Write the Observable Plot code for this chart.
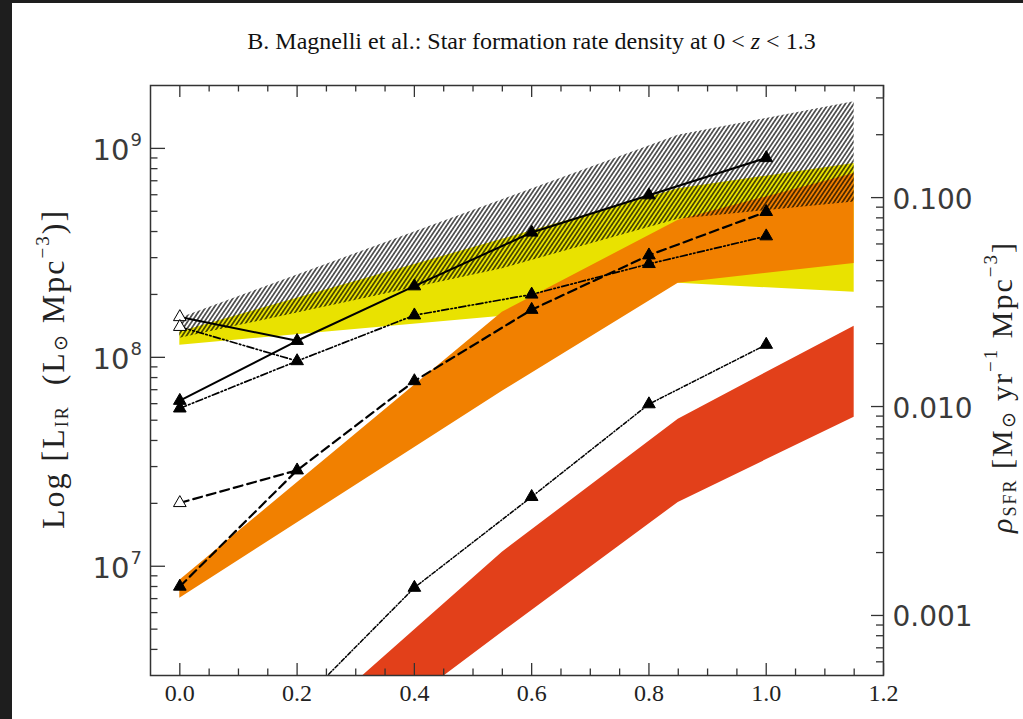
<!DOCTYPE html>
<html><head><meta charset="utf-8">
<script src="https://cdn.jsdelivr.net/npm/d3@7"></script>
<script src="https://cdn.jsdelivr.net/npm/@observablehq/plot@0.6"></script>
<style>
body{margin:0;background:#1e1e1e;width:1023px;height:719px;overflow:hidden;}
#wrap{position:absolute;left:12px;top:3px;width:1011px;height:716px;background:#fff;}
#title{position:absolute;left:14px;width:1011px;top:25px;text-align:center;font-family:"Liberation Serif",serif;font-size:24px;color:#111;white-space:nowrap;}
#chart{position:absolute;left:0;top:0;}
</style></head><body>
<div id="wrap"><div id="chart"></div><div id="title">B. Magnelli et al.: Star formation rate density at 0 &lt; <i>z</i> &lt; 1.3</div></div>
<script>
// ---------- data ----------
const redshift = [0.0, 0.2, 0.4, 0.6, 0.8, 1.0];
const lirSolid = [6.2e7, 1.2e8, 2.19e8, 3.96e8, 5.97e8, 9.0e8];
const lirDashDotDot = [5.7e7, 9.6e7, 1.59e8, 2.0e8, 2.8e8, 3.8e8];
const lirDashed = [8.0e6, 2.88e7, 7.7e7, 1.69e8, 3.08e8, 4.97e8];
const lirDashDot = [null, 2.14e6, 7.9e6, 2.15e7, 5.97e7, 1.15e8];
const openZ = 0.0;
const openSolid = 1.56e8;
const openDashDotDot = 1.40e8;
const openDashed = 2.01e7;

const bandZ = [0.0, 0.55, 0.85, 1.15];
const hatchHi = [1.54e8, 5.68e8, 1.157e9, 1.67e9];
const hatchLo = [1.234e8, 2.656e8, 4.58e8, 5.54e8];
const yellowHi = [1.323e8, 3.675e8, 6.41e8, 8.47e8];
const yellowLo = [1.143e8, 1.573e8, 2.263e8, 2.049e8];
const orangeHi = [8.57e6, 1.644e8, 4.53e8, 7.58e8];
const orangeLo = [7.03e6, 6.88e7, 2.263e8, 2.81e8];
const redZ = [0.25, 0.55, 0.85, 1.15];
const redHi = [2.10e6, 1.167e7, 5.06e7, 1.41e8];
const redLo = [1.13e6, 4.83e6, 2.02e7, 5.17e7];

// ticks
const xMajor = [0.0, 0.2, 0.4, 0.6, 0.8, 1.0, 1.2];
const xMinor = [0.05, 0.1, 0.15, 0.25, 0.3, 0.35, 0.45, 0.5, 0.55, 0.65, 0.7, 0.75, 0.85, 0.9, 0.95, 1.05, 1.1, 1.15];
const yMajor = [1e7, 1e8, 1e9];
const yExp = ["7", "8", "9"];
const yMinor = [4e6,5e6,6e6,7e6,8e6,9e6, 2e7,3e7,4e7,5e7,6e7,7e7,8e7,9e7, 2e8,3e8,4e8,5e8,6e8,7e8,8e8,9e8];
const sfrMajor = [0.001, 0.01, 0.1];
const sfrLabels = ["0.001", "0.010", "0.100"];
const sfrMinor = [0.0006,0.0007,0.0008,0.0009, 0.002,0.003,0.004,0.005,0.006,0.007,0.008,0.009, 0.02,0.03,0.04,0.05,0.06,0.07,0.08,0.09, 0.2,0.3];
const kennicutt = 1.72e-10; // SFR = 1.72e-10 L_IR

// ---------- helpers ----------
const band = (zs, lo, hi) => zs.map((z, i) => ({z, lo: lo[i], hi: hi[i]}));
const pts = ys => redshift.map((z, i) => ({z, v: ys[i]})).filter(d => d.v != null);
const seg = (v0, v1) => [{z: openZ, v: v0}, {z: redshift[1], v: v1}];

const W = 1011, H = 716, mL = 138, mR = 140, mT = 82, mB = 44;
const fW = W - mL - mR, fH = H - mT - mB;

const styles = {
  solid: {stroke: "#000", strokeWidth: 2},
  dashed: {stroke: "#000", strokeWidth: 2.2, strokeDasharray: "9,5"},
  ddd: {stroke: "#000", strokeWidth: 1.7, strokeDasharray: "7,2.5,1.5,2.5,1.5,2.5"},
  dd: {stroke: "#000", strokeWidth: 1.5, strokeDasharray: "4,2,1,2"}
};
const tri = {x: "z", y: "v", symbol: "triangle", r: 4.7, fill: "#000", stroke: "#000", strokeWidth: 1, clip: true};
const openTri = {x: "z", y: "v", symbol: "triangle", r: 4.7, fill: "#fff", stroke: "#000", strokeWidth: 1, clip: true};
const tickStyle = {stroke: "#333", strokeWidth: 1.3};
const numFont = {fontFamily: "DejaVu Sans", fill: "#3a3a3a"};

const plot = Plot.plot({
  width: W, height: H,
  marginLeft: mL, marginRight: mR, marginTop: mT, marginBottom: mB,
  x: {domain: [-0.05, 1.2], axis: null},
  y: {type: "log", domain: [3e6, 2e9], axis: null},
  marks: [
    Plot.areaY(band(bandZ, yellowLo, yellowHi), {x: "z", y1: "lo", y2: "hi", fill: "#e9e200", clip: true}),
    Plot.areaY(band(bandZ, orangeLo, orangeHi), {x: "z", y1: "lo", y2: "hi", fill: "#f18000", clip: true}),
    Plot.areaY(band(redZ, redLo, redHi), {x: "z", y1: "lo", y2: "hi", fill: "#e2401a", clip: true}),
    Plot.areaY(band(bandZ, hatchLo, hatchHi), {x: "z", y1: "lo", y2: "hi", fill: "url(#hatch)", clip: true}),

    Plot.line(pts(lirSolid), {x: "z", y: "v", ...styles.solid, clip: true}),
    Plot.line(seg(openSolid, lirSolid[1]), {x: "z", y: "v", ...styles.solid, clip: true}),
    Plot.line(pts(lirDashed), {x: "z", y: "v", ...styles.dashed, clip: true}),
    Plot.line(seg(openDashed, lirDashed[1]), {x: "z", y: "v", ...styles.dashed, clip: true}),
    Plot.line(pts(lirDashDotDot), {x: "z", y: "v", ...styles.ddd, clip: true}),
    Plot.line(seg(openDashDotDot, lirDashDotDot[1]), {x: "z", y: "v", ...styles.ddd, clip: true}),
    Plot.line(pts(lirDashDot), {x: "z", y: "v", ...styles.dd, clip: true}),

    Plot.dot(pts(lirSolid), tri),
    Plot.dot(pts(lirDashed), tri),
    Plot.dot(pts(lirDashDotDot), tri),
    Plot.dot(pts(lirDashDot), tri),
    Plot.dot([{z: openZ, v: openSolid}, {z: openZ, v: openDashDotDot}, {z: openZ, v: openDashed}], openTri),

    // ticks (inside the frame on all four sides)
    Plot.ruleX(xMajor, {x: d => d, insetTop: fH - 12, ...tickStyle}),
    Plot.ruleX(xMinor, {x: d => d, insetTop: fH - 6.5, ...tickStyle}),
    Plot.ruleX(xMajor, {x: d => d, insetBottom: fH - 12, ...tickStyle}),
    Plot.ruleX(xMinor, {x: d => d, insetBottom: fH - 6.5, ...tickStyle}),
    Plot.ruleY(yMajor, {y: d => d, insetRight: fW - 15, ...tickStyle}),
    Plot.ruleY(yMinor, {y: d => d, insetRight: fW - 7.5, ...tickStyle}),
    Plot.ruleY(sfrMajor, {y: d => d / kennicutt, insetLeft: fW - 12, ...tickStyle}),
    Plot.ruleY(sfrMinor, {y: d => d / kennicutt, insetLeft: fW - 7, ...tickStyle}),
    Plot.frame({stroke: "#333", strokeWidth: 1.5}),

    // tick labels
    Plot.text(xMajor, {x: d => d, frameAnchor: "bottom", dy: 25, text: d => d.toFixed(1), fontFamily: "Liberation Serif", fontSize: 24, fill: "#222"}),
    Plot.text(yMajor, {y: d => d, frameAnchor: "left", dx: -21, dy: 2, text: () => "10", textAnchor: "end", fontSize: 29, ...numFont}),
    Plot.text(yMajor, {y: d => d, frameAnchor: "left", dx: -20, dy: -8, text: (d, i) => yExp[i], textAnchor: "start", fontSize: 18, ...numFont}),
    Plot.text(sfrMajor, {y: d => d / kennicutt, frameAnchor: "right", dx: 9, dy: 2, text: (d, i) => sfrLabels[i], textAnchor: "start", fontSize: 28, ...numFont})
  ]
});

// hatch pattern
const svg = d3.select(plot);
const defs = svg.insert("defs", ":first-child");
const pat = defs.append("pattern").attr("id", "hatch").attr("patternUnits", "userSpaceOnUse")
  .attr("width", 3.5).attr("height", 3.5).attr("patternTransform", "rotate(34)");
pat.append("line").attr("x1", 1.75).attr("y1", -1).attr("x2", 1.75).attr("y2", 4.5)
  .attr("stroke", "#000").attr("stroke-width", 1.2);

// axis titles
function label(x, y, size, spacing, parts) {
  const t = svg.append("text").attr("transform", `translate(${x},${y}) rotate(-90)`)
    .attr("text-anchor", "middle").attr("dominant-baseline", "middle")
    .attr("font-family", "Liberation Serif").attr("font-size", size).attr("fill", "#222")
    .attr("letter-spacing", spacing);
  let shift = 0;
  for (const p of parts) {
    const s = t.append("tspan").text(p.t);
    const target = p.dy || 0;
    s.attr("dy", target - shift);
    shift = target;
    if (p.size) s.attr("font-size", p.size);
    if (p.italic) s.attr("font-style", "italic");
  }
}
label(45, 366, 32, 2, [
  {t: "Log [L"}, {t: "IR", size: 18, dy: 7}, {t: "  (L"}, {t: "⊙", size: 19, dy: 6},
  {t: " Mpc"}, {t: "−3", size: 19, dy: -12}, {t: ")]"}
]);
label(993, 384, 30, 2, [
  {t: "ρ", italic: true}, {t: "SFR", size: 18, dy: 7}, {t: " [M"}, {t: "⊙", size: 19, dy: 6},
  {t: " yr"}, {t: "−1", size: 19, dy: -12}, {t: " Mpc"}, {t: "−3", size: 19, dy: -12}, {t: "]"}
]);

document.getElementById("chart").appendChild(plot);
</script>
</body></html>
